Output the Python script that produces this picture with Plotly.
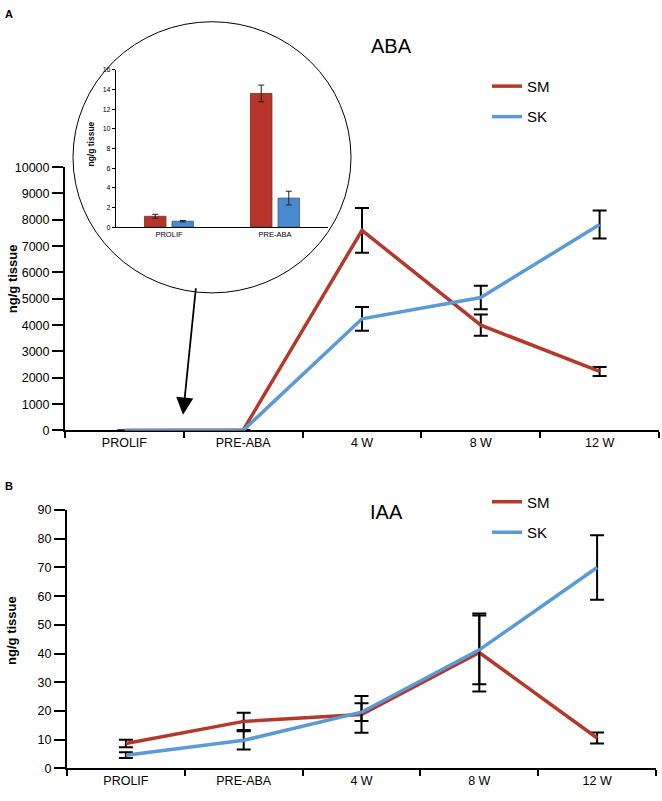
import plotly.graph_objects as go

# ---------------- data ----------------
categories = ["PROLIF", "PRE-ABA", "4 W", "8 W", "12 W"]

aba_sm = [1.1, 13.6, 7600, 4000, 2240]
aba_sm_err = [None, None, 850, 400, 170]
aba_sk = [0.6, 2.95, 4240, 5050, 7820]
aba_sk_err = [None, None, 450, 450, 530]

inset_categories = ["PROLIF", "PRE-ABA"]
inset_sm = [1.1, 13.6]
inset_sm_err = [0.2, 0.85]
inset_sk = [0.6, 2.95]
inset_sk_err = [0.07, 0.7]

iaa_sm = [8.7, 16.4, 18.8, 40.4, 10.6]
iaa_sm_err = [1.3, 3.0, 6.4, 13.6, 1.9]
iaa_sk = [4.6, 9.8, 19.6, 41.3, 70.0]
iaa_sk_err = [1.0, 3.2, 3.1, 12.0, 11.2]

aba_ticks = list(range(0, 10001, 1000))
iaa_ticks = list(range(0, 91, 10))
inset_ticks = list(range(0, 17, 2))

# ---------------- style ----------------
RED = "#B3392C"
BLUE = "#5B9AD5"
BAR_RED = "#B5352A"
BAR_BLUE = "#4A8AD0"
FONT = "Liberation Sans, Arial, sans-serif"
W, H = 662, 801


def px_x(x):
    return x / W


def px_y(y):
    return 1 - y / H


fig = go.Figure()

err_style = dict(type="data", color="black", thickness=2, width=7, visible=True)

# Top panel (ABA)
fig.add_trace(go.Scatter(
    x=categories, y=aba_sm, mode="lines", name="SM",
    line=dict(color=RED, width=3.5), cliponaxis=False,
    error_y=dict(array=aba_sm_err, **err_style),
    xaxis="x", yaxis="y", legend="legend", legendgroup="a1"))
fig.add_trace(go.Scatter(
    x=categories, y=aba_sk, mode="lines", name="SK",
    line=dict(color=BLUE, width=3.5), cliponaxis=False,
    error_y=dict(array=aba_sk_err, **err_style),
    xaxis="x", yaxis="y", legend="legend", legendgroup="a2"))

# Bottom panel (IAA)
fig.add_trace(go.Scatter(
    x=categories, y=iaa_sm, mode="lines", name="SM",
    line=dict(color=RED, width=3.5), cliponaxis=False,
    error_y=dict(array=iaa_sm_err, **err_style),
    xaxis="x2", yaxis="y2", legend="legend2", legendgroup="b1"))
fig.add_trace(go.Scatter(
    x=categories, y=iaa_sk, mode="lines", name="SK",
    line=dict(color=BLUE, width=3.5), cliponaxis=False,
    error_y=dict(array=iaa_sk_err, **err_style),
    xaxis="x2", yaxis="y2", legend="legend2", legendgroup="b2"))

# Inset bars
inset_err = dict(type="data", color="#222222", thickness=1, width=3)
fig.add_trace(go.Bar(
    x=inset_categories, y=inset_sm, name="SM", showlegend=False,
    marker=dict(color=BAR_RED, line=dict(color="#7a2a22", width=0.8)),
    error_y=dict(array=inset_sm_err, **inset_err),
    xaxis="x3", yaxis="y3"))
fig.add_trace(go.Bar(
    x=inset_categories, y=inset_sk, name="SK", showlegend=False,
    marker=dict(color=BAR_BLUE, line=dict(color="#2f5f90", width=0.8)),
    error_y=dict(array=inset_sk_err, **inset_err),
    xaxis="x3", yaxis="y3"))

tickfont = dict(family=FONT, size=12.5, color="black")

main_x = dict(type="category", range=[-0.5, 4.5], tickson="boundaries",
              ticks="outside", ticklen=6, tickwidth=2, tickcolor="black",
              showline=True, linewidth=2, linecolor="black",
              showgrid=False, zeroline=False, tickfont=tickfont,
              layer="below traces")
main_y = dict(ticks="outside", ticklen=11, tickwidth=2, tickcolor="black",
              showline=True, linewidth=2, linecolor="black",
              showgrid=False, zeroline=False, tickfont=tickfont,
              tickformat="d", layer="below traces")

fig.update_layout(
    width=W, height=H,
    margin=dict(l=0, r=0, t=0, b=0),
    paper_bgcolor="white", plot_bgcolor="rgba(0,0,0,0)",
    font=dict(family=FONT, color="black"),
    bargap=0.48, bargroupgap=0.22, barmode="group",
    xaxis=dict(domain=[px_x(65), px_x(659)], anchor="y", **main_x),
    yaxis=dict(domain=[px_y(431), px_y(163)], anchor="x", range=[0, 10000],
               tickmode="array", tickvals=aba_ticks, **main_y),
    xaxis2=dict(domain=[px_x(67), px_x(656)], anchor="y2", **main_x),
    yaxis2=dict(domain=[px_y(775), px_y(512)], anchor="x2", range=[0, 90],
                tickmode="array", tickvals=iaa_ticks, **main_y),
    xaxis3=dict(domain=[px_x(116), px_x(328)], anchor="y3", type="category",
                range=[-0.5, 1.5], ticks="", showline=True, linewidth=1.2,
                linecolor="black", showgrid=False, zeroline=False,
                tickfont=dict(family=FONT, size=7.5, color="black")),
    yaxis3=dict(domain=[px_y(224), px_y(64)], anchor="x3", range=[0, 16],
                tickmode="array", tickvals=inset_ticks, ticks="outside",
                ticklen=3, tickwidth=1, tickcolor="black", showline=True,
                linewidth=1.2, linecolor="black", showgrid=False,
                zeroline=False,
                tickfont=dict(family=FONT, size=7, color="black")),
    legend=dict(x=px_x(487), y=px_y(64), xanchor="left", yanchor="top",
                font=dict(family=FONT, size=15, color="black"),
                bgcolor="rgba(0,0,0,0)", traceorder="grouped",
                tracegroupgap=8),
    legend2=dict(x=px_x(487), y=px_y(487), xanchor="left", yanchor="top",
                 font=dict(family=FONT, size=15, color="black"),
                 bgcolor="rgba(0,0,0,0)", traceorder="grouped",
                 tracegroupgap=8),
    showlegend=True,
)

# Inset circle
fig.add_shape(type="circle", xref="paper", yref="paper",
              x0=px_x(73), x1=px_x(351), y0=px_y(291), y1=px_y(15),
              line=dict(color="black", width=1), fillcolor="white",
              layer="below")

annotations = [
    dict(text="<b>A</b>", x=px_x(3), y=px_y(7), xanchor="left",
         yanchor="middle", font=dict(size=11)),
    dict(text="<b>B</b>", x=px_x(3), y=px_y(488), xanchor="left",
         yanchor="middle", font=dict(size=11)),
    dict(text="ABA", x=px_x(392), y=px_y(40), xanchor="center",
         yanchor="middle", font=dict(size=20)),
    dict(text="IAA", x=px_x(386), y=px_y(514), xanchor="center",
         yanchor="middle", font=dict(size=20)),
    dict(text="<b>ng/g tissue</b>", x=px_x(12), y=px_y(277), textangle=-90,
         xanchor="center", yanchor="middle", font=dict(size=13)),
    dict(text="<b>ng/g tissue</b>", x=px_x(12), y=px_y(635), textangle=-90,
         xanchor="center", yanchor="middle", font=dict(size=13)),
    dict(text="<b>ng/g tissue</b>", x=px_x(91), y=px_y(140), textangle=-90,
         xanchor="center", yanchor="middle", font=dict(size=8.5)),
    dict(text="", x=px_x(183), y=px_y(415), ax=13, ay=-128,
         showarrow=True, arrowhead=2, arrowsize=1.9, arrowwidth=1.8,
         arrowcolor="black"),
]
for a in annotations:
    a.setdefault("xref", "paper")
    a.setdefault("yref", "paper")
    a.setdefault("showarrow", False)
    fig.add_annotation(**a)

fig.write_html(
    "out.html",
    config={"displayModeBar": False},
    post_script="document.body.style.margin='0';"
                "document.body.style.overflow='hidden';",
)
